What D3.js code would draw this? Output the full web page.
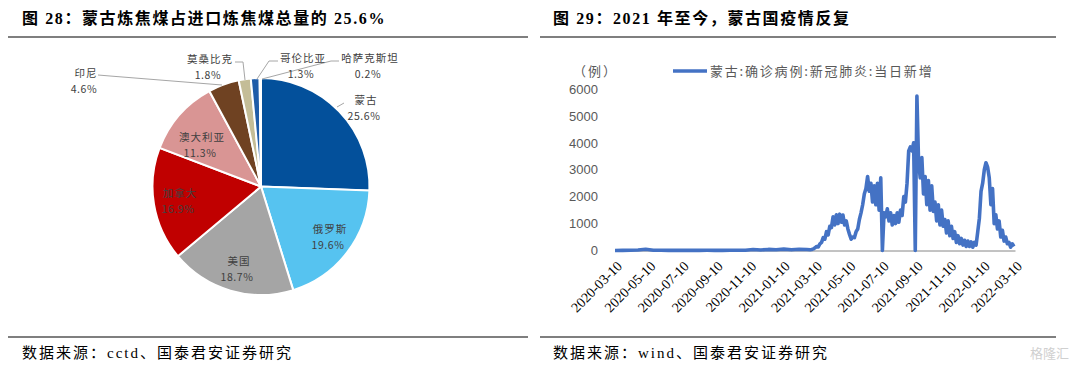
<!DOCTYPE html>
<html>
<head>
<meta charset="utf-8">
<script src="https://cdn.jsdelivr.net/npm/d3@7"></script>
<style>
body { margin: 0; background: #fff; }
svg { display: block; }
.title { font-family: "Liberation Serif", "Noto Sans CJK SC", serif; font-weight: bold; font-size: 16px; letter-spacing: 1.6px; fill: #000; }
.source { font-family: "Liberation Serif", "Noto Sans CJK SC", serif; font-size: 15px; letter-spacing: 2px; fill: #000; }
.plabel { font-family: "Noto Sans CJK SC", sans-serif; font-size: 10.5px; fill: #404040; text-anchor: middle; }
.rule { stroke: #7f7f7f; stroke-width: 2; }
.lead { fill: none; stroke: #a6a6a6; stroke-width: 1; }
</style>
</head>
<body>
<script>

// ---- pie data (图28)
var countries = ["蒙古", "俄罗斯", "美国", "加拿大", "澳大利亚", "印尼", "莫桑比克", "哥伦比亚", "哈萨克斯坦"];
var shares    = [25.6, 19.6, 18.7, 16.9, 11.3, 4.6, 1.8, 1.3, 0.2];
var pieColors = ["#03509b", "#56c3f0", "#a5a5a5", "#c00000", "#d99594", "#6f4222", "#c4bd97", "#1f5ca8", "#8c8c8c"];

// ---- line data (图29), 蒙古 daily new cases
// 2020-03-10 .. 2021-02-23, one reading every 14 days
var quietStart = "2020-03-10";
var quietStep = 14;
var quietCases = [0, 5, 12, 20, 45, 10, 8, 5, 10, 3, 5, 6, 8, 4, 6, 10, 8, 12, 35, 20, 40, 30, 50, 25, 45, 35];
// 2021-03-01 .. 2022-03-08, one reading every 3 days
var activeStart = "2021-03-01";
var activeStep = 3;
var activeCases = [
  30, 40, 60, 100, 150, 130, 250, 300, 480, 420,
  700, 580, 900, 850, 1250, 950, 1330, 1000, 1350, 1050,
  1320, 950, 1100, 800, 600, 420, 500, 480, 700, 800,
  1150, 1400, 1700, 2100, 2300, 2750, 2200, 2500, 1800, 2400,
  1700, 2500, 1500, 2700, 0, 1400, 1250, 1550, 1100, 1400,
  950, 1300, 1000, 1400, 1050, 1500, 1300, 2000, 1800, 2500,
  3700, 3850, 3700, 4000, 0, 5740, 3300, 2700, 3450, 2100,
  2750, 1700, 2600, 1500, 2400, 1450, 1800, 1100, 1700, 950,
  1500, 900, 1150, 650, 1100, 550, 900, 450, 700, 300,
  550, 250, 450, 200, 380, 150, 350, 150, 320, 120,
  300, 200, 700, 1200, 2200, 2500, 3000, 3260, 3100, 2700,
  1700, 2300, 1000, 1330, 800, 1100, 500, 750, 350, 500,
  250, 300, 120, 250, 150
];
var xTickLabels = ["2020-03-10", "2020-05-10", "2020-07-10", "2020-09-10", "2020-11-10", "2021-01-10",
  "2021-03-10", "2021-05-10", "2021-07-10", "2021-09-10", "2021-11-10", "2022-01-10", "2022-03-10"];
var yTicks = [0, 1000, 2000, 3000, 4000, 5000, 6000];

var svg = d3.select("body").append("svg").attr("width", 1080).attr("height", 370);

// ---- headers and footers
svg.append("text").attr("class", "title").attr("x", 22).attr("y", 24).text("图 28：蒙古炼焦煤占进口炼焦煤总量的 25.6%");
svg.append("text").attr("class", "title").attr("x", 553).attr("y", 24).text("图 29：2021 年至今，蒙古国疫情反复");
svg.append("line").attr("class", "rule").attr("x1", 8).attr("x2", 528).attr("y1", 37).attr("y2", 37);
svg.append("line").attr("class", "rule").attr("x1", 540).attr("x2", 1056).attr("y1", 37).attr("y2", 37);
svg.append("line").attr("class", "rule").attr("x1", 8).attr("x2", 528).attr("y1", 337).attr("y2", 337);
svg.append("line").attr("class", "rule").attr("x1", 540).attr("x2", 1056).attr("y1", 337).attr("y2", 337);
svg.append("text").attr("class", "source").attr("x", 22).attr("y", 358).text("数据来源：cctd、国泰君安证券研究");
svg.append("text").attr("class", "source").attr("x", 553).attr("y", 358).text("数据来源：wind、国泰君安证券研究");
svg.append("text").attr("x", 1030).attr("y", 358)
  .style("font-family", "Noto Sans CJK SC").style("font-size", "13px").style("fill", "#d0d0d0")
  .text("格隆汇");

// ---- pie
var pieData = countries.map((c, i) => ({name: c, value: shares[i], color: pieColors[i]}));
var pie = d3.pie().value(d => d.value).sort(null);
var arc = d3.arc().innerRadius(0).outerRadius(108.5);
var gp = svg.append("g").attr("transform", "translate(261,186.5)");
gp.selectAll("path").data(pie(pieData)).join("path")
  .attr("d", arc)
  .attr("fill", d => d.data.color)
  .attr("stroke", "#fff")
  .attr("stroke-width", 2);

// label spots (label centre, relative to page)
var labelPos = {
  "蒙古": [366, 100], "俄罗斯": [330, 229], "美国": [239, 261], "加拿大": [180, 193],
  "澳大利亚": [202, 137], "印尼": [86, 73], "莫桑比克": [210, 59], "哥伦比亚": [303, 58], "哈萨克斯坦": [370, 58]
};
var leaders = [
  [[344, 103], [337, 107]],
  [[98, 75], [110, 76], [222, 85]],
  [[235, 62], [243, 62], [245, 80]],
  [[278, 61], [269, 61], [257, 79]],
  [[339, 61], [331, 61], [262, 79]]
];
svg.selectAll("path.lead").data(leaders).join("path").attr("class", "lead").attr("d", d3.line());

pieData.forEach(function(d) {
  var p = labelPos[d.name];
  svg.append("text").attr("class", "plabel").attr("x", p[0]).attr("y", p[1] + 4)
    .style("letter-spacing", "1px").text(d.name);
  svg.append("text").attr("class", "plabel").attr("x", p[0] - 2).attr("y", p[1] + 20)
    .style("letter-spacing", "0.6px").text(d3.format(".1f")(d.value) + "%");
});

// ---- line chart
var parse = d3.utcParse("%Y-%m-%d");
var series = [];
quietCases.forEach((v, i) => series.push({date: d3.utcDay.offset(parse(quietStart), i * quietStep), value: v}));
activeCases.forEach((v, i) => series.push({date: d3.utcDay.offset(parse(activeStart), i * activeStep), value: v}));

var x = d3.scaleUtc().domain([parse("2020-03-10"), parse("2022-03-10")]).range([615, 1015]);
var y = d3.scaleLinear().domain([0, 6000]).range([250.5, 89]);

var yAxis = svg.append("g").attr("transform", "translate(606,0)")
  .call(d3.axisLeft(y).tickValues(yTicks).tickSize(0).tickPadding(8).tickFormat(d3.format("d")));
yAxis.select(".domain").remove();
yAxis.selectAll("text").style("font-family", "Liberation Sans, sans-serif").style("font-size", "13px").style("fill", "#595959");

var xAxis = svg.append("g").attr("transform", "translate(0," + y(0) + ")")
  .call(d3.axisBottom(x).tickValues(xTickLabels.map(parse)).tickSize(0).tickFormat(d3.utcFormat("%Y-%m-%d")));
xAxis.select(".domain").attr("stroke", "#868686");
xAxis.selectAll("text")
  .attr("x", 0).attr("y", 0).attr("dy", "0.35em")
  .attr("text-anchor", "end")
  .attr("transform", "translate(4,13) rotate(-45)")
  .style("font-family", "Liberation Serif, serif").style("font-size", "14px").style("fill", "#000");

svg.append("path").datum(series)
  .attr("fill", "none").attr("stroke", "#4472c4").attr("stroke-width", 3.6).attr("stroke-linejoin", "round")
  .attr("d", d3.line().x(d => x(d.date)).y(d => y(d.value)));

// legend
svg.append("text").attr("x", 573).attr("y", 76)
  .style("font-family", "Noto Sans CJK SC").style("font-size", "13px").style("letter-spacing", "2px").style("fill", "#595959").text("（例）");
svg.append("line").attr("x1", 673).attr("x2", 707).attr("y1", 71).attr("y2", 71)
  .attr("stroke", "#4472c4").attr("stroke-width", 3.5);
svg.append("text").attr("x", 710).attr("y", 76)
  .style("font-family", "Noto Sans CJK SC").style("font-size", "13px").style("letter-spacing", "1.8px").style("fill", "#595959")
  .text("蒙古:确诊病例:新冠肺炎:当日新增");

</script>
</body>
</html>
